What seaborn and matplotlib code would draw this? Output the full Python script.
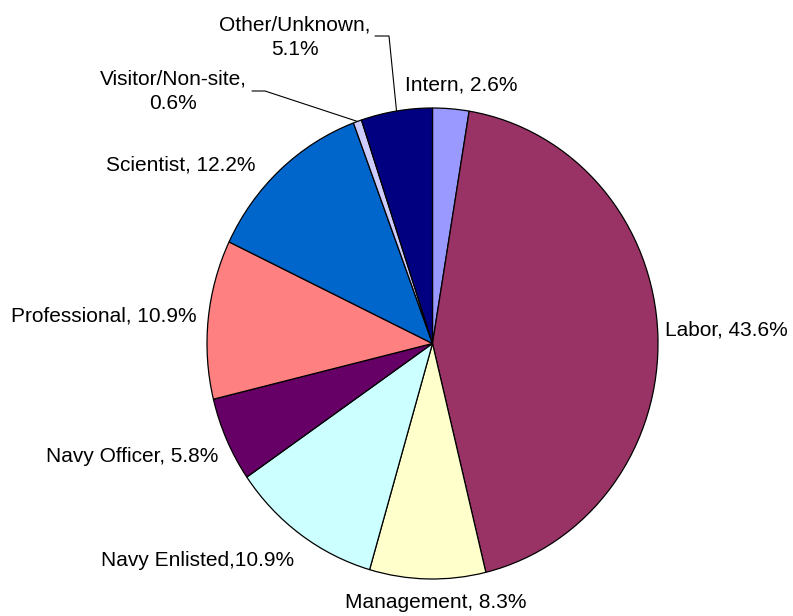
import numpy as np
import matplotlib
matplotlib.use("Agg")
import matplotlib.pyplot as plt
import seaborn as sns

categories = ["Intern", "Labor", "Management", "Navy Enlisted", "Navy Officer",
              "Professional", "Scientist", "Visitor/Non-site", "Other/Unknown"]
shares = [2.6, 43.6, 8.3, 10.9, 5.8, 10.9, 12.2, 0.6, 5.1]
colors = ["#9999FF", "#993366", "#FFFFCC", "#CCFFFF", "#660066",
          "#FF8080", "#0066CC", "#CCCCFF", "#000080"]

sns.set_theme(style="white")
plt.rcParams["font.family"] = ["Liberation Sans", "DejaVu Sans"]

W, H = 793, 616
fig = plt.figure(figsize=(W / 100, H / 100), dpi=100)
fig.patch.set_facecolor("white")

# pie bounding box in pixels (left, top, right, bottom)
L, T, R, B = 207, 108, 658, 579
ax = fig.add_axes([L / W, 1 - B / H, (R - L) / W, (B - T) / H])
wedges, _ = ax.pie(shares, colors=colors, startangle=90, counterclock=False,
                   wedgeprops=dict(edgecolor="black", linewidth=0.9),
                   radius=1.0)
ax.set_aspect("auto")
ax.set_xlim(-1, 1)
ax.set_ylim(-1, 1)
ax.axis("off")


def fig_xy(px, py):
    return px / W, 1 - py / H


def edge_point(i):
    w = wedges[i]
    mid = np.deg2rad((w.theta1 + w.theta2) / 2)
    return np.cos(mid), np.sin(mid)


fs = 15
labels = [
    ("Intern, 2.6%", 461, 85, "center"),
    ("Labor, 43.6%", 665, 330, "left"),
    ("Management, 8.3%", 436, 603, "center"),
    ("Navy Enlisted,10.9%", 198, 561, "center"),
    ("Navy Officer, 5.8%", 218, 457, "right"),
    ("Professional, 10.9%", 197, 316, "right"),
    ("Scientist, 12.2%", 181, 165, "center"),
    ("Visitor/Non-site,\n0.6%", 173, 91, "center"),
    ("Other/Unknown,\n5.1%", 295, 37, "center"),
]
for text, px, py, ha in labels:
    fx, fy = fig_xy(px, py)
    fig.text(fx, fy, text, ha=ha, va="center", fontsize=fs, color="black",
             linespacing=1.35)

# leader lines for the two small slices near the top
leaders = [(7, (252, 91), (265, 91)), (8, (375, 36), (389, 36))]
for idx, p0, p1 in leaders:
    ex, ey = edge_point(idx)
    a = fig_xy(*p0)
    b = fig_xy(*p1)
    c = ax.transData.transform((ex, ey))
    c = fig.transFigure.inverted().transform(c)
    fig.add_artist(plt.Line2D([a[0], b[0], c[0]], [a[1], b[1], c[1]],
                              transform=fig.transFigure, color="black",
                              linewidth=0.8))

fig.savefig("out.png", dpi=100, facecolor="white")
